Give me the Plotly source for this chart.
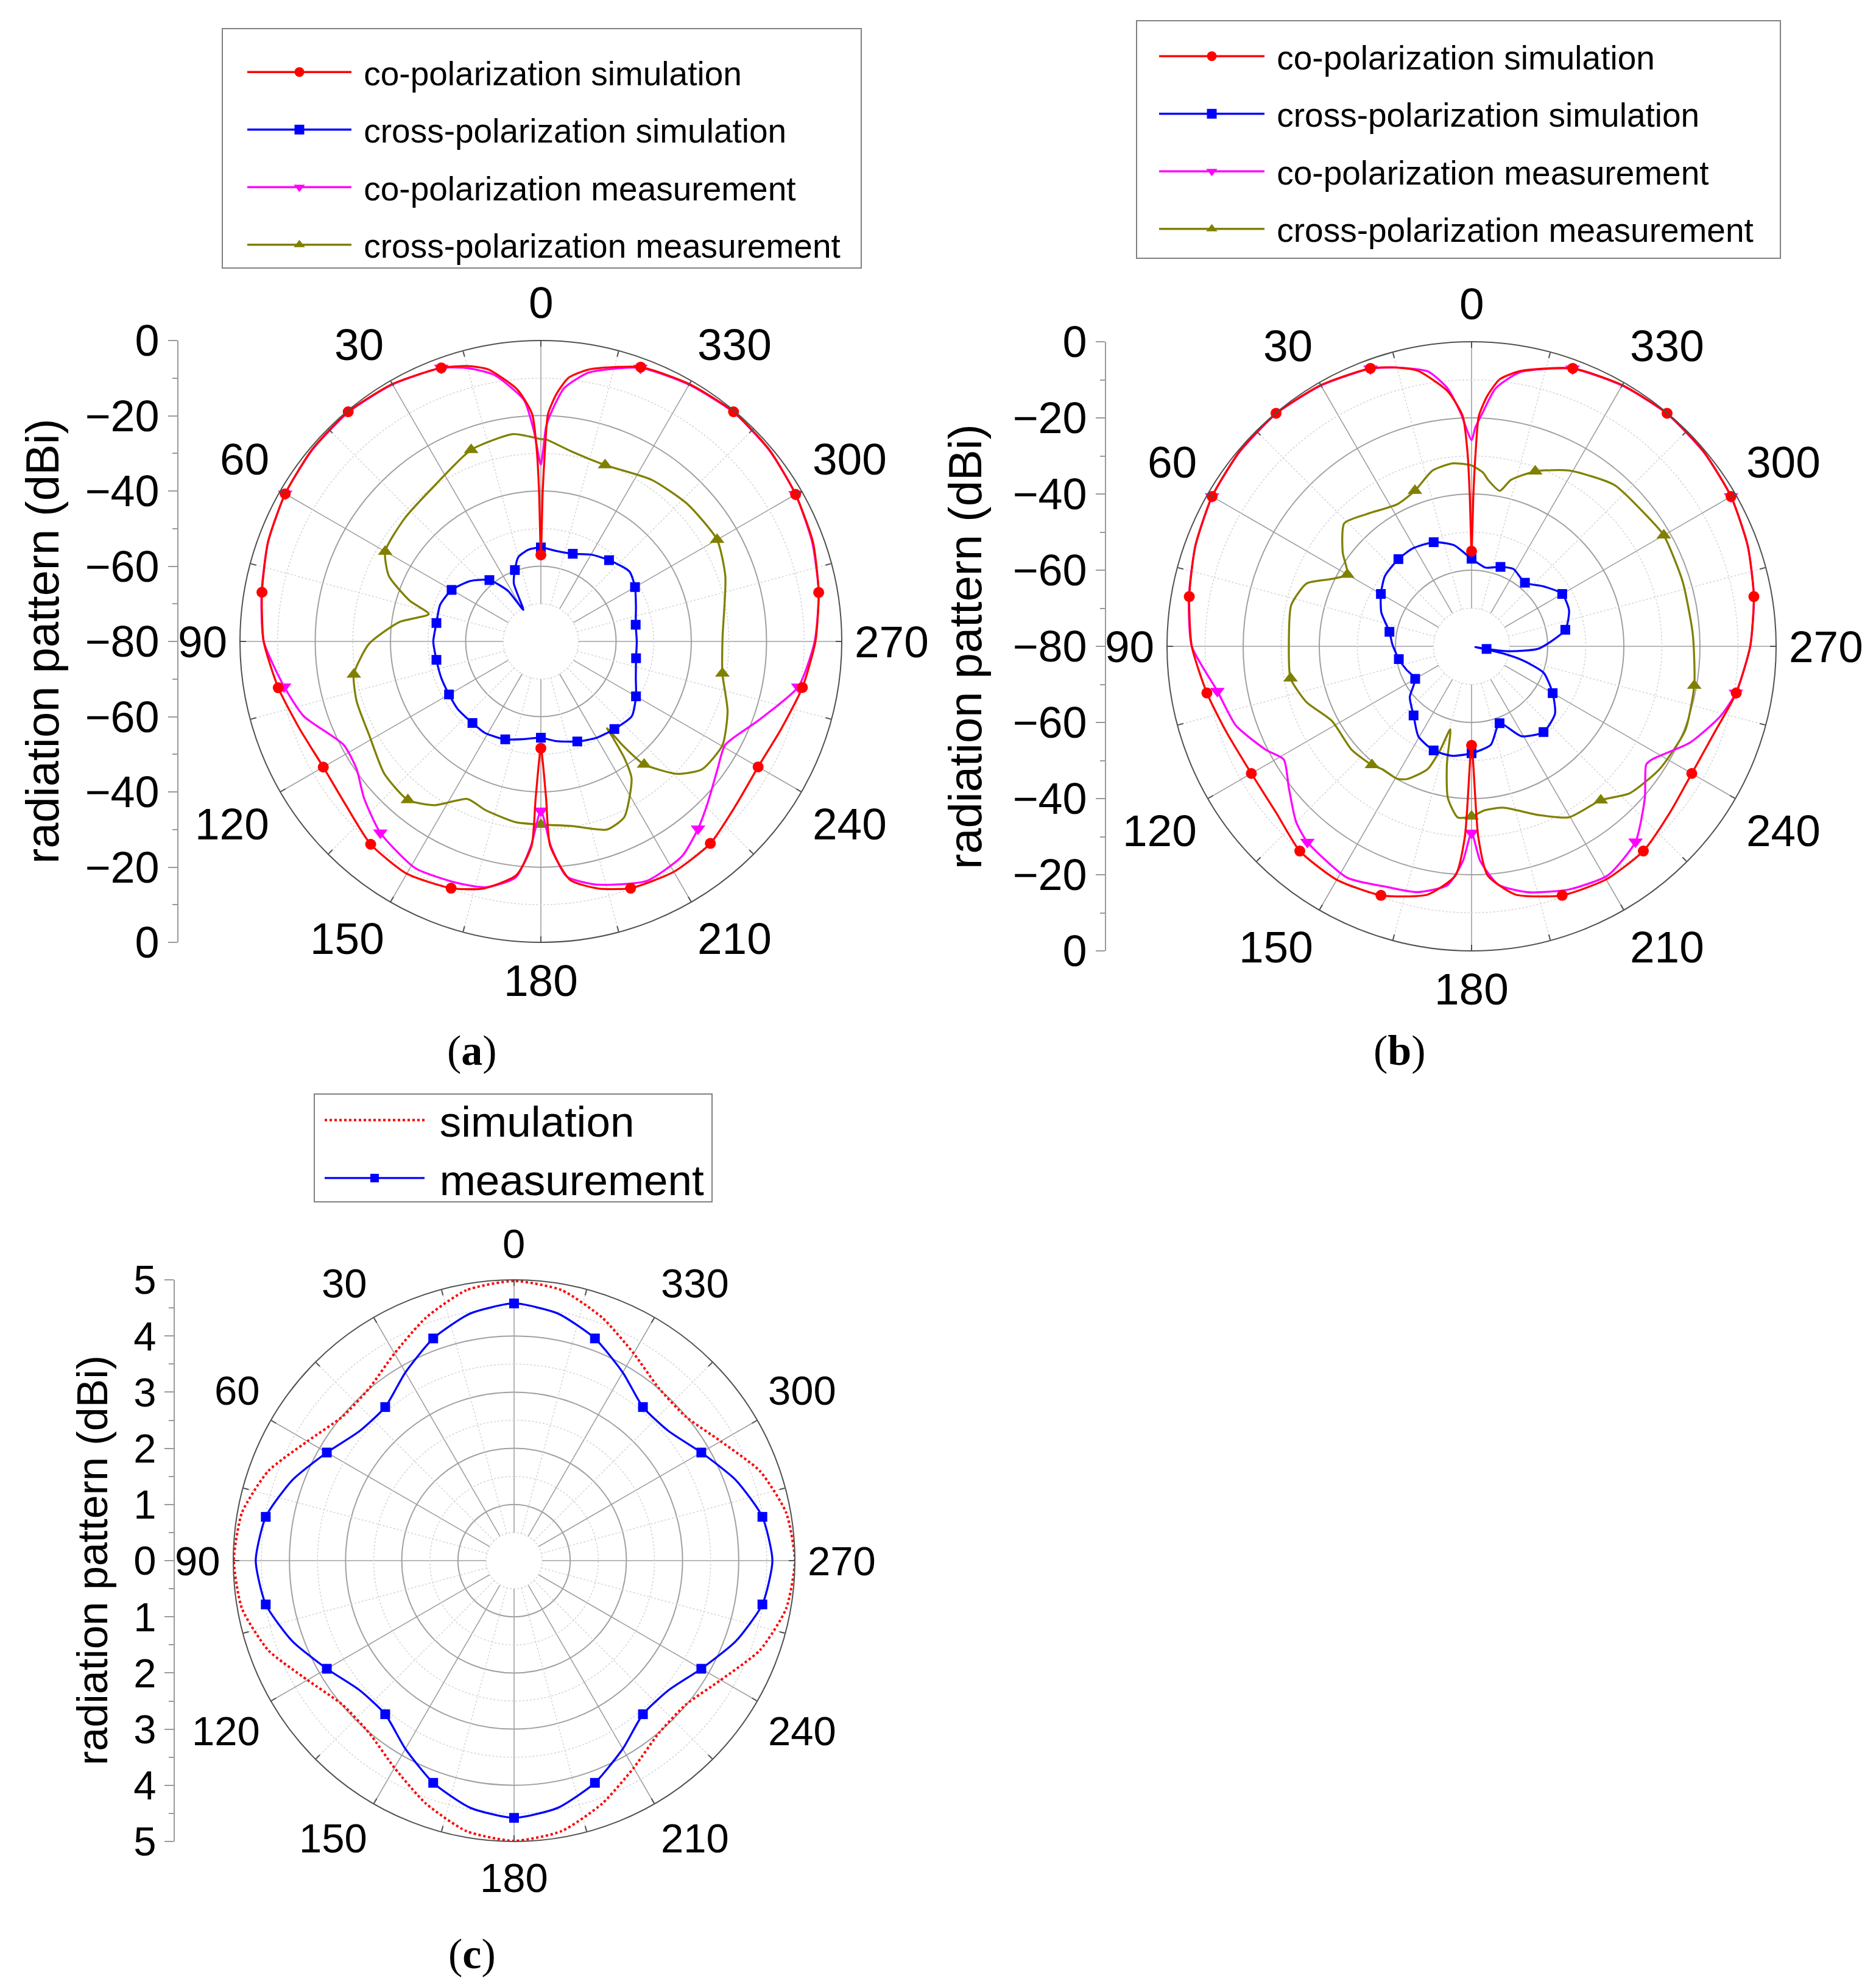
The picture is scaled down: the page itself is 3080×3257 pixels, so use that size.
import math
import plotly.graph_objects as go

W, H = 3080, 3257
FONT = "Liberation Sans, Arial, sans-serif"
SERIF = "Liberation Serif, Times New Roman, serif"
RED, BLUE, MAG, OLIVE = "#FF0000", "#0000FF", "#FF00FF", "#808000"

# ---------------- (a) data ----------------
a_cosim_theta = [0, 0.7, 1.2, 2.2, 5.3, 11, 15, 20, 30, 40, 50, 60, 70, 80, 90, 100, 110, 120, 130, 140, 150, 160, 167,
                 174, 177.4, 178.1, 180, 181.9, 182.6, 187, 193, 200, 210, 220, 230, 240, 250, 260, 270, 280, 290, 300,
                 310, 320, 330, 340, 350, 354, 356.4, 358.2, 358.8, 359.3, 360]
a_cosim_r = [-57, -40, -29.5, -19.5, -12.8, -6.3, -4.2, -2.6, -1.0, -0.3, -0.6, -1.5, -2.8, -4.7, -6.3, -9.1, -11.8,
             -13.2, -12.3, -9.6, -8.7, -10.2, -12.6, -17.5, -25.6, -38.4, -51.6, -38.4, -25.6, -16.1, -12.6, -10.2,
             -9.3, -9.9, -12.3, -13.3, -12.0, -9.4, -7.0, -5.0, -3.0, -1.8, -0.7, -0.3, -1.0, -2.4, -6.6, -9.5, -14.1,
             -19.5, -29.5, -40, -57]

a_xsim_theta = [0, 7.8, 15, 20, 25, 29, 33, 40, 49.5, 60, 70, 80, 90, 100, 110, 120, 129, 140, 148.7, 160, 169.8, 180,
                188.6, 200, 210, 220, 230.6, 240, 249.2, 260, 270, 280, 290, 300, 308.3, 320, 329.8, 340, 350, 360]
a_xsim_r = [-55, -55.4, -56.8, -59.8, -63, -70.4, -64, -58.7, -55.3, -52.6, -51.5, -51.8, -51.4, -51.8, -51.8, -51.8,
            -51.5, -51.7, -51.5, -52.3, -53.6, -54.4, -53.2, -51.7, -50.4, -49.6, -48.7, -50.8, -53, -54.3, -54.5,
            -54.4, -53.1, -51.1, -50, -51.8, -53.3, -55.2, -55.6, -55]

a_comeas_theta = [0, 1.9, 4, 10, 15, 20, 30, 40, 50, 60, 70, 80, 90, 100, 107.5, 117.7, 124.7, 131.5, 140, 151, 160.4,
                  167.3, 173.9, 177.2, 180, 182.8, 186.2, 192.8, 203.9, 213.4, 220, 226, 234, 240.7, 250, 260, 270, 280,
                  290, 300, 310, 320, 330, 340, 349.9, 354.7, 357.2, 358.6, 360]
a_comeas_r = [-33, -24, -15.7, -8, -4.8, -2.6, -1.1, -0.4, -0.7, -1.5, -2.8, -4.6, -6.3, -10.7, -13.9, -20.8, -20.4,
              -17.2, -13.6, -11.1, -12, -13, -16.9, -25.5, -35, -25.5, -17.2, -13.7, -10.4, -11.7, -15, -18.3, -22,
              -23.8, -18.5, -10.5, -7.2, -5, -3.2, -1.8, -0.8, -0.4, -1.2, -2.6, -7.4, -12.3, -18.5, -22.8, -33]

a_xmeas_theta = [0, 7.6, 20, 34, 48, 60, 66.7, 72.7, 76.3, 82.2, 90.8, 100, 108, 118.6, 130.2, 140, 147, 155, 161.8, 172,
                 180, 189.3, 199.3, 205.4, 213.5, 215.5, 216.8, 217.3, 218.2, 219, 220, 225.8, 231.6, 240.3, 249.5, 260,
                 271, 289.4, 300, 313.2, 325.5, 340, 351, 358.5, 360]
a_xmeas_r = [-26.2, -24.4, -25.8, -29.8, -31.2, -32.2, -36, -43.4, -49.3, -42, -34.3, -29.5, -28.5, -28, -25.5, -25,
             -28.1, -33.8, -32.8, -31.5, -31.3, -30.3, -27, -28.3, -36.3, -41.5, -48, -51, -45, -41, -37.3, -29.5,
             -25.3, -24.4, -27, -31, -31.7, -28, -25.9, -26.6, -27.9, -30.1, -28.8, -26.3, -26.2]

# ---------------- (b) data ----------------
b_cosim_theta = [0, 0.7, 1.2, 2.2, 5.3, 11, 15, 20, 30, 40, 50, 60, 70, 80, 90, 100, 108.9, 120, 130.4, 140, 150, 160,
                 170, 176, 178, 180, 182, 184, 190, 200, 210, 220, 230, 240, 250.9, 260, 270, 280, 290, 300, 310, 320,
                 330, 340, 350, 354, 356.4, 358.2, 358.8, 359.3, 360]
b_cosim_r = [-55, -40, -29, -19.5, -12.8, -6.3, -4.2, -2.3, -0.8, -0.1, -0.4, -1.3, -2.8, -4.7, -6.5, -9.4, -11.7,
             -13.2, -12.6, -9.8, -9.2, -10.4, -13.8, -19.7, -30, -54, -30, -19.7, -13.8, -10.4, -9.3, -9.8, -12,
             -13.2, -12.2, -9.4, -6.8, -4.7, -2.8, -1.3, -0.4, -0.1, -0.8, -2.3, -6.6, -9.5, -14.1, -19.5, -29, -40,
             -55]

b_xsim_theta = [0, 10, 20, 31, 40, 51, 60, 69.5, 80, 88.7, 100, 109.5, 120, 129.4, 140, 149.5, 160, 170, 180, 191, 200,
                209, 220, 231, 240, 249.8, 254.5, 257.2, 258.5, 260, 262.6, 268, 280, 290.3, 300, 309.8, 320, 331.5,
                340, 350, 360]
b_xsim_r = [-57, -53, -50.9, -50, -50.1, -50.7, -52.5, -54.7, -58.1, -59.2, -60.6, -61.8, -62.9, -59, -56.3, -52.5,
            -50.9, -50.8, -51.9, -53.6, -58.5, -53, -50.6, -51.8, -55.4, -59.8, -65.8, -71.4, -79, -76, -70, -62.4,
            -55, -52.7, -52.5, -55.4, -58.2, -56.9, -57.8, -59, -57]

b_comeas_theta = [0, 2.7, 5.3, 9, 15, 20, 30, 40, 50, 60, 70, 80, 90, 100, 108.6, 116.7, 121.1, 127.9, 135, 140, 151.7,
                  160.7, 167.6, 174.3, 177.7, 180, 182.3, 186.4, 193, 201.8, 210.8, 220, 228.8, 235.9, 238, 246.2,
                  254.3, 260, 270, 280, 290, 300, 310, 320, 330, 340, 350, 354.7, 357.3, 359, 360]
b_comeas_r = [-25.8, -18.6, -12, -6.9, -4.2, -2.4, -0.9, -0.2, -0.5, -1.3, -2.8, -4.6, -6.5, -12.2, -14.7, -19.5,
              -22.4, -19.2, -14.8, -12.9, -11, -13, -13.9, -17, -23.6, -31, -23.6, -17, -13.7, -11.2, -10, -13, -19.5,
              -24.6, -24, -17.3, -12.1, -9.5, -6.8, -4.7, -2.8, -1.3, -0.5, -0.2, -0.9, -2.4, -6.9, -12, -18.6, -22.5,
              -25.8]

b_xmeas_theta = [0, 5.8, 12.5, 20, 27.6, 38.3, 46, 53.9, 60, 64.3, 69.2, 77.2, 89.2, 100, 108.6, 118.1, 130.9, 140, 144,
                 150.7, 154.2, 160.3, 163.2, 165.6, 168.2, 171.1, 175.4, 180, 184.6, 191.1, 201.7, 209.7, 220, 227.1,
                 236.9, 248.5, 260, 273.1, 287.1, 300, 307.4, 318.5, 331, 340, 346.7, 349.7, 354.3, 356.2, 360]
b_xmeas_r = [-32.5, -31.7, -32.7, -36.5, -37.9, -35.7, -33.5, -38.1, -42.3, -39.2, -33.6, -31.4, -32, -31.7, -34.2,
             -38.4, -38.4, -39.3, -40.1, -40.1, -41.3, -45.7, -51.6, -57.5, -48.3, -39.7, -34.9, -35.3, -36.8, -36.8,
             -32.3, -28.3, -27.2, -23.3, -21, -19.7, -20.6, -21.8, -22, -21.7, -22.7, -23.4, -27.2, -31.1, -35.1,
             -38.5, -36.1, -34.3, -32.5]

# ---------------- (c) data ----------------
c_theta = list(range(0, 361, 10))
c_sim_r = [4.98, 4.89, 4.60, 4.26, 4.01, 3.99, 4.25, 4.66, 4.92, 4.99, 4.92, 4.66, 4.25, 3.99, 4.01, 4.26, 4.60, 4.89,
           4.99, 4.89, 4.60, 4.26, 4.01, 3.99, 4.25, 4.66, 4.92, 5.00, 4.92, 4.66, 4.25, 3.99, 4.01, 4.26, 4.60, 4.89,
           4.98]
c_meas_r = [4.58, 4.47, 4.21, 3.87, 3.57, 3.59, 3.85, 4.20, 4.49, 4.60, 4.49, 4.20, 3.85, 3.59, 3.57, 3.87, 4.21, 4.47,
            4.58, 4.47, 4.21, 3.87, 3.57, 3.59, 3.85, 4.20, 4.49, 4.60, 4.49, 4.20, 3.85, 3.59, 3.57, 3.87, 4.21, 4.47,
            4.58]

ang_ticks = list(range(0, 360, 15))
ang_labels = list(range(0, 360, 30))

LEG_A = ["co-polarization simulation", "cross-polarization simulation",
         "co-polarization measurement", "cross-polarization measurement"]
LEG_C = ["simulation", "measurement"]

fig = go.Figure()

GRID = "#a0a0a0"
GRID_MINOR = "#d4d4d4"
AXC = "#505050"
NB = "\u00a0"


def add_grid(sp, r_hole, r_max, minor_circles):
    rs, ts = [], []
    for a in range(0, 360, 30):
        rs += [r_hole, r_max, None]
        ts += [a, a, None]
    fig.add_trace(go.Scatterpolar(r=rs, theta=ts, mode="lines", subplot=sp, showlegend=False, hoverinfo="skip",
                                  line=dict(color=GRID, width=1.6)))
    rs, ts = [], []
    for a in range(15, 360, 30):
        rs += [r_hole, r_max, None]
        ts += [a, a, None]
    for rc in minor_circles:
        rs += [rc] * 181 + [None]
        ts += [2 * k for k in range(181)] + [None]
    fig.add_trace(go.Scatterpolar(r=rs, theta=ts, mode="lines", subplot=sp, showlegend=False, hoverinfo="skip",
                                  line=dict(color=GRID_MINOR, width=1.5, dash="dot")))


def add_series(sp, theta, r, color, symbol, msize, keep, dash="solid", width=3.3):
    fig.add_trace(go.Scatterpolar(r=r, theta=theta, mode="lines", subplot=sp, showlegend=False,
                                  line=dict(color=color, width=width, shape="spline", smoothing=0.6, dash=dash)))
    if symbol:
        mt = [t for t in theta if t < 360 and keep(t)]
        mr = [v for t, v in zip(theta, r) if t < 360 and keep(t)]
        fig.add_trace(go.Scatterpolar(r=mr, theta=mt, mode="markers", subplot=sp, showlegend=False,
                                      marker=dict(color=color, symbol=symbol, size=msize, line=dict(width=0))))


def add_legend_entry(sp, leg, name, color, symbol, msize, dash="solid", width=3.3, group=None):
    fig.add_trace(go.Scatterpolar(r=[None], theta=[None], subplot=sp, legend=leg, name=NB + name, legendgroup=group,
                                  mode="lines+markers" if symbol else "lines",
                                  line=dict(color=color, width=width, dash=dash),
                                  marker=dict(color=color, symbol=symbol or "circle", size=msize)))


every20 = lambda t: t % 20 == 0
every40 = lambda t: (t - 20) % 40 == 0

for sp, leg, data in [
    ("polar", "legend", (a_cosim_theta, a_cosim_r, a_xsim_theta, a_xsim_r, a_comeas_theta, a_comeas_r,
                         a_xmeas_theta, a_xmeas_r)),
    ("polar2", "legend2", (b_cosim_theta, b_cosim_r, b_xsim_theta, b_xsim_r, b_comeas_theta, b_comeas_r,
                           b_xmeas_theta, b_xmeas_r)),
]:
    add_grid(sp, -70, 0, [-70, -50, -30, -10])
    add_series(sp, data[6], data[7], OLIVE, "triangle-up", 21, every40)
    add_series(sp, data[2], data[3], BLUE, "square", 16, every20)
    add_series(sp, data[4], data[5], MAG, "triangle-down", 21, every40)
    add_series(sp, data[0], data[1], RED, "circle", 18, every20)
    add_legend_entry(sp, leg, LEG_A[0], RED, "circle", 16, group=sp + "g1")
    add_legend_entry(sp, leg, LEG_A[1], BLUE, "square", 16, group=sp + "g2")
    add_legend_entry(sp, leg, LEG_A[2], MAG, "triangle-down", 16, group=sp + "g3")
    add_legend_entry(sp, leg, LEG_A[3], OLIVE, "triangle-up", 16, group=sp + "g4")

add_grid("polar3", 0.5, 5, [0.5, 1.5, 2.5, 3.5, 4.5])
add_series("polar3", c_theta, c_sim_r, RED, None, 0, every20, dash="dot", width=4)
add_series("polar3", c_theta, c_meas_r, BLUE, "square", 16, every20)
add_legend_entry("polar3", "legend3", LEG_C[0], RED, None, 0, dash="dot", width=4, group="c1")
add_legend_entry("polar3", "legend3", LEG_C[1], BLUE, "square", 14, group="c2")


def polar_layout(cx, cy, R, rrange, rticks):
    return dict(
        domain=dict(x=[(cx - R) / W, (cx + R) / W], y=[(H - cy - R) / H, (H - cy + R) / H]),
        bgcolor="white",
        angularaxis=dict(direction="counterclockwise", rotation=90, tickmode="array", tickvals=ang_ticks,
                         ticktext=[""] * len(ang_ticks), ticks="inside", ticklen=9, tickwidth=2, tickcolor=AXC,
                         showgrid=False, showline=True, linecolor=AXC, linewidth=2),
        radialaxis=dict(range=rrange, tickmode="array", tickvals=rticks, showticklabels=False, ticks="",
                        showline=False, gridcolor=GRID, gridwidth=1.6),
    )


def left_axis(cy, R, vals, texts, minor, fsize):
    return dict(domain=[(H - cy - R) / H, (H - cy + R) / H], range=[vals[0], vals[-1]], tickmode="array",
                tickvals=vals, ticktext=texts, ticks="outside", ticklen=15, tickwidth=2, tickcolor="#9a9a9a",
                showline=True, linecolor="#9a9a9a", linewidth=2, showgrid=False, zeroline=False,
                ticklabelstandoff=0, tickfont=dict(size=fsize, color="black", family=FONT),
                minor=dict(tickmode="array", tickvals=minor, ticks="outside", ticklen=8, tickwidth=2,
                           tickcolor="#9a9a9a", showgrid=False))


ab_vals = [-80, -60, -40, -20, 0, 20, 40, 60, 80]
ab_text = [str(abs(v) - 80).replace("-", "\u2212") for v in ab_vals]
ab_minor = [-70, -50, -30, -10, 10, 30, 50, 70]
c_vals = [-5, -4, -3, -2, -1, 0, 1, 2, 3, 4, 5]
c_text = [str(abs(v)) for v in c_vals]
c_minor = [v + 0.5 for v in range(-5, 5)]

for xa, ya in [("x", "y"), ("x2", "y2"), ("x3", "y3")]:
    fig.add_trace(go.Scatter(x=[None], y=[None], xaxis=xa, yaxis=ya, showlegend=False))

leg_common = dict(xanchor="left", yanchor="top", borderwidth=0, bgcolor="rgba(0,0,0,0)", tracegroupgap=20)

fig.update_layout(
    width=W, height=H, template="none", paper_bgcolor="white", plot_bgcolor="white",
    margin=dict(l=0, r=0, t=0, b=0), font=dict(family=FONT, color="black"),
    polar=polar_layout(888, 1053, 494, [-80, 0], [-60, -40, -20]),
    polar2=polar_layout(2416, 1061, 500, [-80, 0], [-60, -40, -20]),
    polar3=polar_layout(844, 2562, 461, [0, 5], [1, 2, 3, 4]),
    xaxis=dict(domain=[293 / W, 300 / W], visible=False, range=[0, 1]),
    yaxis=left_axis(1053, 494, ab_vals, ab_text, ab_minor, 72) | dict(anchor="x"),
    xaxis2=dict(domain=[1816 / W, 1823 / W], visible=False, range=[0, 1]),
    yaxis2=left_axis(1061, 500, ab_vals, ab_text, ab_minor, 72) | dict(anchor="x2"),
    xaxis3=dict(domain=[287 / W, 294 / W], visible=False, range=[0, 1]),
    yaxis3=left_axis(2562, 461, c_vals, c_text, c_minor, 67) | dict(anchor="x3"),
    legend=dict(x=401 / W, y=1 - 76 / H, font=dict(size=55, family=FONT), itemwidth=171, **leg_common),
    legend2=dict(x=1898 / W, y=1 - 50 / H, font=dict(size=55, family=FONT), itemwidth=173, **leg_common),
    legend3=dict(x=528 / W, y=1 - 1786 / H, font=dict(size=71, family=FONT), itemwidth=164,
                 **(leg_common | dict(tracegroupgap=0))),
)

# legend frames
for x0, y0, x1, y1 in [(365, 47, 1414, 440), (1866, 34, 2923, 424), (516, 1796, 1169, 1973)]:
    fig.add_shape(type="rect", xref="paper", yref="paper", x0=x0 / W, x1=x1 / W, y0=1 - y0 / H, y1=1 - y1 / H,
                  line=dict(color="#808080", width=2), fillcolor="rgba(0,0,0,0)", layer="above")

# angular tick labels placed just outside each circle
for cx, cy, R, fs in [(888, 1053, 494, 73), (2416, 1061, 500, 73), (844, 2562, 461, 67)]:
    gap = 21
    for a in ang_labels:
        t = str(a)
        ux = -math.sin(math.radians(a))
        uy = -math.cos(math.radians(a))
        w = len(t) * 0.556 * fs
        h = 1.15 * fs
        sx = 0 if abs(ux) < 1e-6 else (1 if ux > 0 else -1)
        sy = 0 if abs(uy) < 1e-6 else (1 if uy > 0 else -1)
        px = cx + ux * (R + gap) + sx * w / 2
        py = cy + uy * (R + gap) + sy * h / 2
        fig.add_annotation(x=px / W, y=1 - py / H, xref="paper", yref="paper", text=t, showarrow=False,
                           font=dict(size=fs, family=FONT, color="black"), xanchor="center", yanchor="middle")

for x, y, s in [(69, 1053, 76), (1584, 1061, 76), (152, 2562, 70)]:
    fig.add_annotation(x=x / W, y=1 - y / H, xref="paper", yref="paper", text="radiation pattern (dBi)",
                       textangle=-90, showarrow=False, font=dict(size=s, family=FONT, color="black"),
                       xanchor="center", yanchor="middle")

for x, y, t in [(775, 1724, "a"), (2298, 1724, "b"), (775, 3207, "c")]:
    fig.add_annotation(x=x / W, y=1 - y / H, xref="paper", yref="paper", text="(<b>%s</b>)" % t, showarrow=False,
                       font=dict(size=70, family=SERIF, color="black"), xanchor="center", yanchor="middle")

fig.write_html("out.html", config={"displayModeBar": False},
               post_script="document.body.style.margin='0px';")
